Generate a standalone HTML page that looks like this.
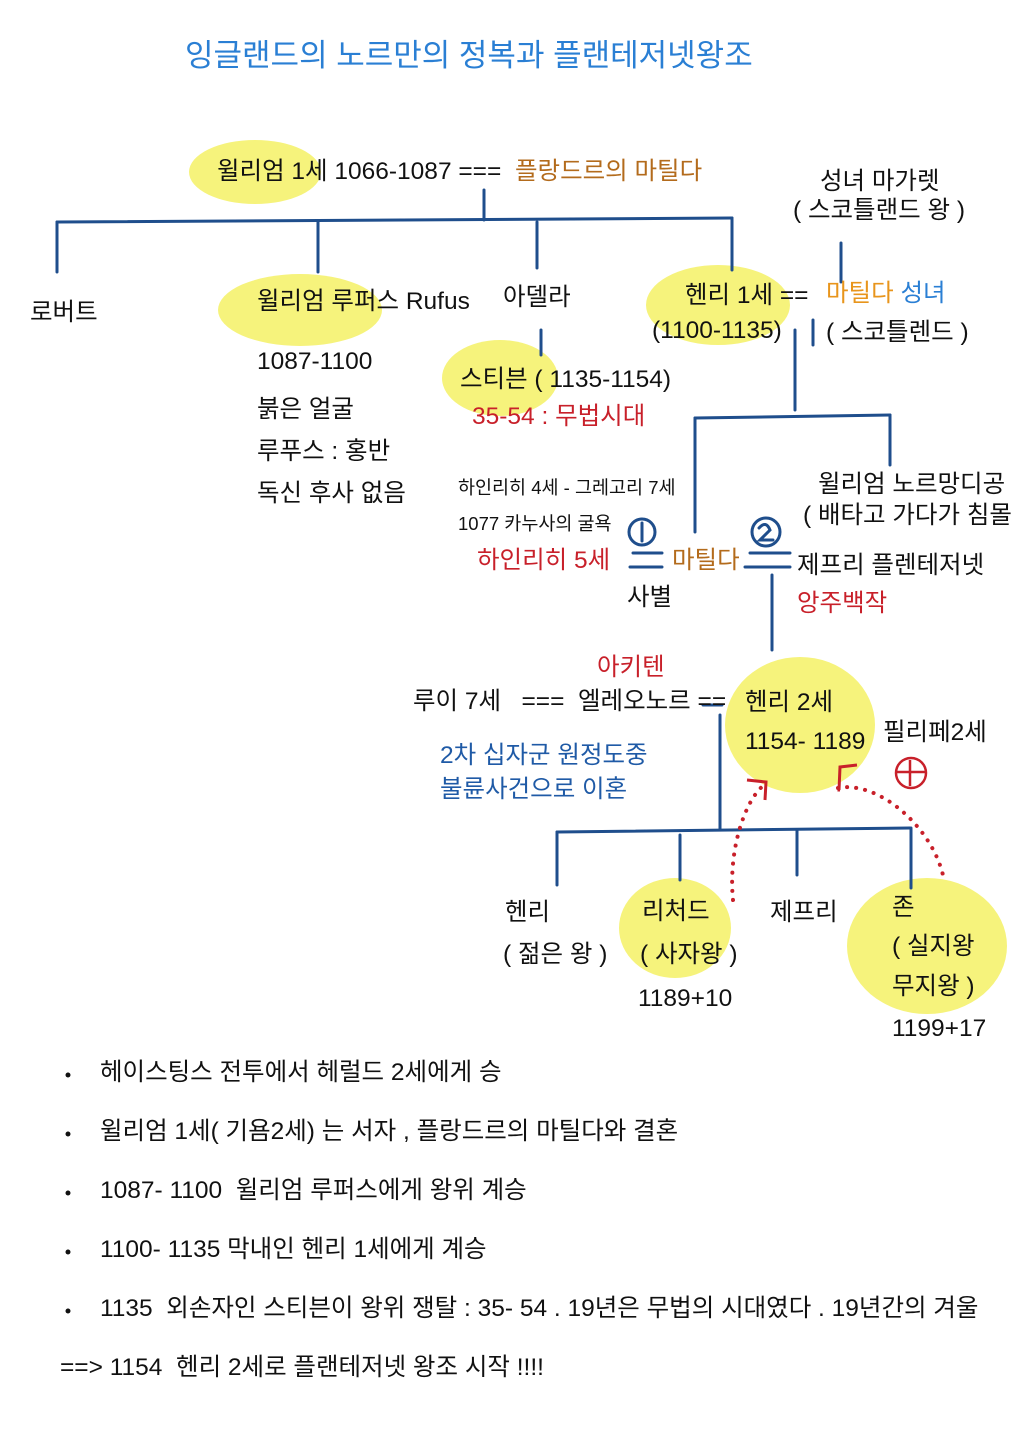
<!DOCTYPE html>
<html><head><meta charset="utf-8"><style>
body{margin:0;background:#fff;}
#c{position:relative;width:1018px;height:1440px;overflow:hidden;font-family:"Liberation Sans","Noto Sans CJK KR",sans-serif;color:#111;}
.t{position:absolute;font-size:24.5px;line-height:30px;white-space:nowrap;}
.s{font-size:18.5px;}
.r{color:#c8202a;}.o{color:#b36b1c;}.b{color:#1f5aa6;}.y{color:#e8951c;}
svg{position:absolute;left:0;top:0;}
</style></head><body><div id="c">
<svg width="1018" height="1440">
<g fill="#f6f37c">
<ellipse cx="255" cy="172" rx="66" ry="32"/>
<ellipse cx="300" cy="310" rx="82" ry="36"/>
<ellipse cx="500" cy="378" rx="58" ry="38"/>
<ellipse cx="718" cy="305" rx="72" ry="40"/>
<ellipse cx="800" cy="725" rx="75" ry="68"/>
<ellipse cx="675" cy="928" rx="56" ry="50"/>
<ellipse cx="927" cy="946" rx="80" ry="68"/>
</g>
<g stroke="#1f4e8c" stroke-width="3" fill="none" stroke-linecap="round">
<path d="M57 222 L732 218"/><path d="M484 190 V220"/>
<path d="M57 222 V272"/><path d="M318 222 V272"/><path d="M537 222 V268"/><path d="M732 218 V270"/>
<path d="M541 330 V355"/>
<path d="M841 243 V282"/><path d="M813 320 V345"/>
<path d="M795 330 V410"/><path d="M695 418 L890 415"/><path d="M695 418 V532"/><path d="M890 415 V465"/>
<path d="M772 575 V650"/>
<path d="M720 715 V830"/><path d="M557 832 L910 828"/>
<path d="M557 832 V885"/><path d="M680 835 V880"/><path d="M797 830 V875"/><path d="M911 828 V888"/>
<path d="M633 553 H662 M630 567 H662"/><path d="M750 553 H790 M745 567 H790"/>
<circle cx="642" cy="532" r="13"/><path d="M642 523 V541"/>
<circle cx="766" cy="532" r="14"/><path d="M759 528 Q766 520 770 530 L760 540 H773"/>
<path d="M703 705 H722"/>
</g>
<g stroke="#c8202a" stroke-width="3" fill="none">
<path d="M733 900 C728 850 745 800 764 785" stroke-width="4" stroke-dasharray="0.1 9" stroke-linecap="round"/>
<path d="M747 780 L766 782 L765 800"/>
<path d="M838 788 C880 780 935 830 944 880" stroke-width="4" stroke-dasharray="0.1 9" stroke-linecap="round"/>
<path d="M840 790 L839 790 L840 767 L857 765"/>
<circle cx="911" cy="773" r="15" stroke-width="2.5"/><path d="M897 772 H925 M910 760 V786" stroke-width="2.5"/>
</g>
<g fill="#111"><circle cx="68" cy="1075" r="2.5"/><circle cx="68" cy="1134" r="2.5"/><circle cx="68" cy="1193" r="2.5"/><circle cx="68" cy="1252" r="2.5"/><circle cx="68" cy="1311" r="2.5"/></g>
</svg>
<div class="t b" style="left:185px;top:38px;font-size:31px;line-height:36px;color:#2a7fd4">잉글랜드의 노르만의 정복과 플랜테저넷왕조</div>
<div class="t" style="left:217px;top:157px">윌리엄 1세 1066-1087 ===</div>
<div class="t o" style="left:515px;top:157px">플랑드르의 마틸다</div>
<div class="t" style="left:820px;top:167px">성녀 마가렛</div>
<div class="t" style="left:793px;top:196px">( 스코틀랜드 왕 )</div>
<div class="t" style="left:30px;top:298px">로버트</div>
<div class="t" style="left:257px;top:287px">윌리엄 루퍼스 Rufus</div>
<div class="t" style="left:503px;top:283px">아델라</div>
<div class="t" style="left:685px;top:281px">헨리 1세 ==</div>
<div class="t" style="left:652px;top:316px">(1100-1135)</div>
<div class="t y" style="left:826px;top:279px">마틸다 <span style="color:#2a7fd4">성녀</span></div>
<div class="t" style="left:826px;top:318px">( 스코틀렌드 )</div>
<div class="t" style="left:257px;top:347px">1087-1100</div>
<div class="t" style="left:257px;top:395px">붉은 얼굴</div>
<div class="t" style="left:257px;top:437px">루푸스 : 홍반</div>
<div class="t" style="left:257px;top:479px">독신 후사 없음</div>
<div class="t" style="left:460px;top:365px">스티븐 ( 1135-1154)</div>
<div class="t r" style="left:472px;top:402px">35-54 : 무법시대</div>
<div class="t s" style="left:458px;top:473px">하인리히 4세 - 그레고리 7세</div>
<div class="t s" style="left:458px;top:509px">1077 카누사의 굴욕</div>
<div class="t r" style="left:477px;top:546px">하인리히 5세</div>
<div class="t o" style="left:672px;top:546px">마틸다</div>
<div class="t" style="left:627px;top:583px">사별</div>
<div class="t" style="left:818px;top:470px">윌리엄 노르망디공</div>
<div class="t" style="left:803px;top:501px">( 배타고 가다가 침몰</div>
<div class="t" style="left:797px;top:551px">제프리 플렌테저넷</div>
<div class="t r" style="left:797px;top:589px">앙주백작</div>
<div class="t r" style="left:597px;top:653px">아키텐</div>
<div class="t" style="left:413px;top:687px">루이 7세 &nbsp;&nbsp;=== &nbsp;엘레오노르 ==</div>
<div class="t" style="left:745px;top:688px">헨리 2세</div>
<div class="t" style="left:745px;top:727px">1154- 1189</div>
<div class="t" style="left:883px;top:718px">필리페2세</div>
<div class="t b" style="left:440px;top:741px">2차 십자군 원정도중</div>
<div class="t b" style="left:440px;top:775px">불륜사건으로 이혼</div>
<div class="t" style="left:505px;top:898px">헨리</div>
<div class="t" style="left:503px;top:940px">( 젊은 왕 )</div>
<div class="t" style="left:642px;top:897px">리처드</div>
<div class="t" style="left:640px;top:940px">( 사자왕 )</div>
<div class="t" style="left:638px;top:984px">1189+10</div>
<div class="t" style="left:770px;top:898px">제프리</div>
<div class="t" style="left:892px;top:893px">존</div>
<div class="t" style="left:892px;top:932px">( 실지왕</div>
<div class="t" style="left:892px;top:972px">무지왕 )</div>
<div class="t" style="left:892px;top:1014px">1199+17</div>
<div class="t" style="left:100px;top:1058px">헤이스팅스 전투에서 헤럴드 2세에게 승</div>
<div class="t" style="left:100px;top:1117px">윌리엄 1세( 기욤2세) 는 서자 , 플랑드르의 마틸다와 결혼</div>
<div class="t" style="left:100px;top:1176px">1087- 1100 &nbsp;윌리엄 루퍼스에게 왕위 계승</div>
<div class="t" style="left:100px;top:1235px">1100- 1135 막내인 헨리 1세에게 계승</div>
<div class="t" style="left:100px;top:1294px">1135 &nbsp;외손자인 스티븐이 왕위 쟁탈 : 35- 54 . 19년은 무법의 시대였다 . 19년간의 겨울</div>
<div class="t" style="left:60px;top:1353px">==&gt; 1154 &nbsp;헨리 2세로 플랜테저넷 왕조 시작 !!!!</div>
</div></body></html>
